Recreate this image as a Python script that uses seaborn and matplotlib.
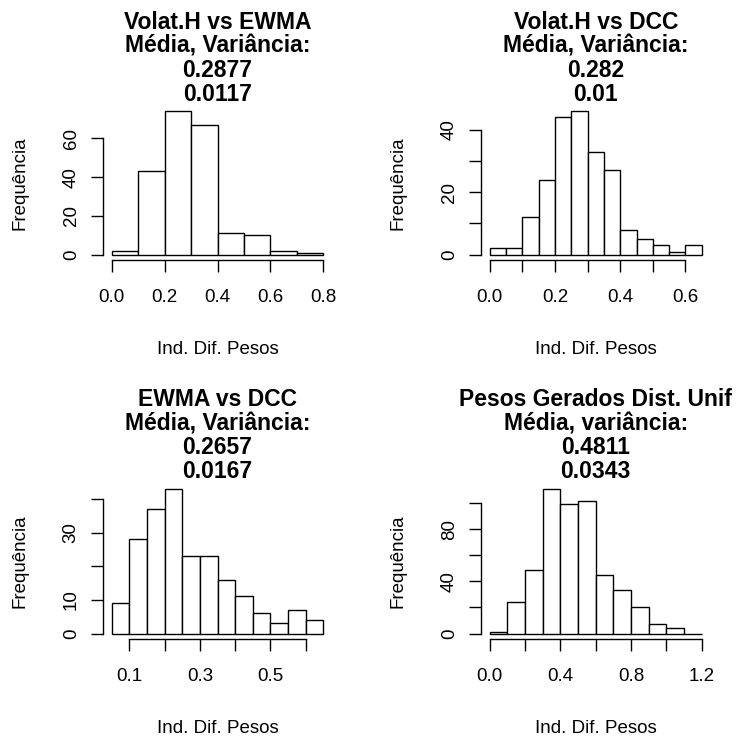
import numpy as np
import pandas as pd
import matplotlib
matplotlib.use("Agg")
import matplotlib.pyplot as plt
import seaborn as sns

# ---------------- data ----------------
titles = [
    ["Volat.H vs EWMA", "Média, Variância:", "0.2877", "0.0117"],
    ["Volat.H vs DCC", "Média, Variância:", "0.282", "0.01"],
    ["EWMA vs DCC", "Média, Variância:", "0.2657", "0.0167"],
    ["Pesos Gerados Dist. Unif", "Média, variância:", "0.4811", "0.0343"],
]

breaks_1 = [0.0, 0.1, 0.2, 0.3, 0.4, 0.5, 0.6, 0.7, 0.8]
counts_1 = [2, 43, 74, 67, 11, 10, 2, 1]

breaks_2 = [0.0, 0.05, 0.1, 0.15, 0.2, 0.25, 0.3, 0.35, 0.4, 0.45, 0.5, 0.55, 0.6, 0.65]
counts_2 = [2, 2, 12, 24, 44, 46, 33, 27, 8, 5, 3, 1, 3]

breaks_3 = [0.05, 0.1, 0.15, 0.2, 0.25, 0.3, 0.35, 0.4, 0.45, 0.5, 0.55, 0.6, 0.65]
counts_3 = [9, 28, 37, 43, 23, 23, 16, 11, 6, 3, 7, 4]

breaks_4 = [0.0, 0.1, 0.2, 0.3, 0.4, 0.5, 0.6, 0.7, 0.8, 0.9, 1.0, 1.1, 1.2]
counts_4 = [1, 24, 49, 111, 99, 102, 45, 33, 20, 7, 4, 0]

xticks_1 = [0.0, 0.2, 0.4, 0.6, 0.8]
xlabels_1 = ["0.0", "0.2", "0.4", "0.6", "0.8"]
yticks_1 = [0, 20, 40, 60]
ylabels_1 = ["0", "20", "40", "60"]

xticks_2 = [0.0, 0.1, 0.2, 0.3, 0.4, 0.5, 0.6]
xlabels_2 = ["0.0", "", "0.2", "", "0.4", "", "0.6"]
yticks_2 = [0, 10, 20, 30, 40]
ylabels_2 = ["0", "", "20", "", "40"]

xticks_3 = [0.1, 0.2, 0.3, 0.4, 0.5, 0.6]
xlabels_3 = ["0.1", "", "0.3", "", "0.5", ""]
yticks_3 = [0, 10, 20, 30, 40]
ylabels_3 = ["0", "10", "", "30", ""]

xticks_4 = [0.0, 0.2, 0.4, 0.6, 0.8, 1.0, 1.2]
xlabels_4 = ["0.0", "", "0.4", "", "0.8", "", "1.2"]
yticks_4 = [0, 20, 40, 60, 80, 100]
ylabels_4 = ["0", "", "40", "", "80", ""]

x_label = "Ind. Dif. Pesos"
y_label = "Frequência"

panels = [
    (breaks_1, counts_1, xticks_1, xlabels_1, yticks_1, ylabels_1),
    (breaks_2, counts_2, xticks_2, xlabels_2, yticks_2, ylabels_2),
    (breaks_3, counts_3, xticks_3, xlabels_3, yticks_3, ylabels_3),
    (breaks_4, counts_4, xticks_4, xlabels_4, yticks_4, ylabels_4),
]

# ---------------- style ----------------
sns.set_style("white")
plt.rcParams["font.family"] = ["Liberation Sans", "DejaVu Sans"]

W, H = 742, 739
fig = plt.figure(figsize=(W / 100, H / 100), dpi=100)

# axes boxes in pixels: left, top, right, bottom
boxes = [
    (103.3, 105.4, 331.8, 260.4),
    (481.3, 105.4, 710.2, 260.4),
    (103.3, 483.0, 331.8, 639.3),
    (481.3, 483.0, 710.2, 639.3),
]

FS = 13.5
TFS = 16.5
PX = 0.72  # points per pixel at dpi 100

for (brk, cnt, xt, xl, yt, yl), box, ttl in zip(panels, boxes, titles):
    l, t, r, b = box
    ax = fig.add_axes([l / W, 1 - b / H, (r - l) / W, (b - t) / H])
    edges = [float(v) for v in brk]
    centers = [(edges[i] + edges[i + 1]) / 2 for i in range(len(edges) - 1)]
    df = pd.DataFrame({"x": centers, "w": [float(c) for c in cnt]})
    sns.histplot(data=df, x="x", weights="w", bins=edges, ax=ax,
                 color="white", edgecolor="black", linewidth=1.0, alpha=1)
    span = edges[-1] - edges[0]
    ax.set_xlim(edges[0] - 0.04 * span, edges[-1] + 0.04 * span)
    ymax = max(cnt)
    ax.set_ylim(-0.04 * ymax, 1.04 * ymax)

    for s in ["top", "right"]:
        ax.spines[s].set_visible(False)
    for s in ["left", "bottom"]:
        ax.spines[s].set_visible(True)
        ax.spines[s].set_color("black")
        ax.spines[s].set_linewidth(1.0)
    ax.spines["bottom"].set_bounds(xt[0], xt[-1])
    ax.spines["left"].set_bounds(yt[0], yt[-1])

    ax.set_xticks(xt)
    ax.set_xticklabels(xl)
    ax.set_yticks(yt)
    ax.set_yticklabels(yl)
    ax.tick_params(axis="both", direction="out", length=12 * PX, width=1.0,
                   color="black", labelsize=FS, labelcolor="black",
                   bottom=True, left=True)
    ax.tick_params(axis="x", pad=16.5 * PX)
    ax.tick_params(axis="y", pad=11.5 * PX)
    for lab in ax.get_yticklabels():
        lab.set_rotation(90)
        lab.set_va("center")
        lab.set_ha("right")

    ax.set_xlabel(x_label, fontsize=FS, color="black", va="baseline")
    ax.xaxis.set_label_coords(0.5, -(354 - 260.4) / (b - t))
    ax.set_ylabel(y_label, fontsize=FS, color="black", va="center")
    ax.yaxis.set_label_coords(-83.0 / (r - l), 0.5)

    base = 4.5
    step = 24.0
    for i, line in enumerate(ttl):
        off = base + (len(ttl) - 1 - i) * step
        ax.annotate(line, xy=(0.5, 1.0), xycoords="axes fraction",
                    xytext=(0, off * PX), textcoords="offset points",
                    ha="center", va="baseline", fontsize=TFS,
                    fontweight="bold", color="black", annotation_clip=False)

fig.savefig("out.png", dpi=100, facecolor="white")
